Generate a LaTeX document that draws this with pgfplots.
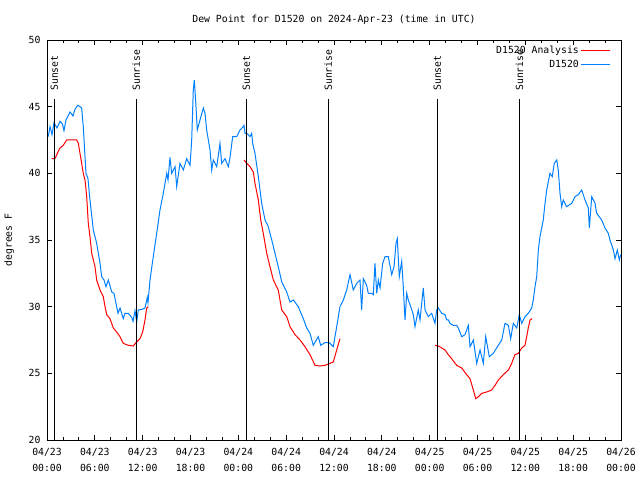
\documentclass[border=0pt]{standalone}
\usepackage{pgfplots}
\pgfplotsset{compat=1.18}
\usepackage{fontspec}
\setmainfont{DejaVu Sans Mono}
\setmonofont{DejaVu Sans Mono}
\definecolor{gpred}{RGB}{255,0,0}
\definecolor{gpblue}{RGB}{0,128,255}
\begin{document}
\begin{tikzpicture}
\path[use as bounding box] (0,0) rectangle (640bp,480bp);
\begin{axis}[
  at={(47bp,40bp)}, anchor=south west,
  scale only axis, width=574bp, height=400bp,
  xmin=0, xmax=72, ymin=20, ymax=50,
  font=\fontsize{9.8bp}{16bp}\selectfont,
  /pgf/number format/assume math mode=true,
  xtick={0,6,...,72},
  xticklabels={{04/23\\00:00},{04/23\\06:00},{04/23\\12:00},{04/23\\18:00},{04/24\\00:00},{04/24\\06:00},{04/24\\12:00},{04/24\\18:00},{04/25\\00:00},{04/25\\06:00},{04/25\\12:00},{04/25\\18:00},{04/26\\00:00}},
  xticklabel style={align=center, yshift=-5bp},
  minor x tick num=2,
  ytick={20,25,...,50},
  yticklabel style={xshift=-3bp},
  tick align=inside,
  major tick length=5bp, minor tick length=3bp,
  every tick/.style={black, line width=0.8bp},
  axis line style={line width=0.8bp},
  title={Dew Point for D1520 on 2024-Apr-23 (time in UTC)},
  title style={at={(0.5,1)}, anchor=center, yshift=14bp},
  ylabel={degrees F},
  ylabel style={at={(axis description cs:-0.066,0.5)}, anchor=center},
  legend plot pos=right,
  legend cell align=right,
  legend style={draw=none, fill=none, at={(1,1)}, anchor=north east, xshift=-9bp, yshift=-3bp, row sep=1bp, inner sep=1bp},
]
\addplot[gpred, line width=1bp, legend image code/.code={\draw[gpred, line width=1bp] (10bp,0bp) -- (39bp,0bp);}] coordinates {
(0.59,41.1) (1.00,41.1) (1.38,41.6) (1.63,41.9) (2.04,42.1) (2.47,42.5) (3.73,42.5) (3.93,42.25) (4.14,41.5) (4.35,40.75) (4.55,40.0) (4.77,39.5) (4.98,38.25) (5.18,36.25) (5.39,35.25) (5.61,34.0) (6.02,33.0) (6.23,32.0) (6.65,31.25) (7.06,30.75) (7.28,30.0) (7.49,29.4) (7.90,29.1) (8.32,28.4) (8.74,28.1) (9.16,27.75) (9.57,27.25) (10.20,27.1) (10.83,27.05) (11.16,27.3) (11.67,27.6) (12.00,28.1) (12.29,29.0) (12.51,29.9) (12.71,30.0)
};
\addlegendentry{D1520 Analysis}
\addplot[gpblue, line width=1bp, legend image code/.code={\draw[gpblue, line width=1bp] (10bp,0bp) -- (39bp,0bp);}] coordinates {
(0.16,42.75) (0.38,43.5) (0.63,42.9) (0.88,43.8) (1.25,43.4) (1.63,43.9) (1.94,43.7) (2.13,43.2) (2.38,44.0) (2.89,44.6) (3.26,44.3) (3.51,44.8) (3.85,45.1) (4.14,45.0) (4.35,44.9) (4.55,43.5) (4.89,40.0) (5.14,39.6) (5.39,38.0) (5.81,35.75) (6.23,34.75) (6.65,33.25) (6.86,32.25) (7.15,32.0) (7.40,31.5) (7.69,32.0) (8.12,31.1) (8.40,31.0) (8.74,30.0) (8.91,29.5) (9.16,29.9) (9.57,29.1) (9.78,29.5) (10.20,29.5) (10.62,29.2) (10.79,28.9) (11.04,29.7) (11.25,28.85) (11.45,29.75) (11.92,29.8) (12.29,29.9) (12.58,30.7) (12.67,30.3) (12.92,32.0) (13.33,33.75) (13.76,35.5) (14.17,37.25) (14.59,38.5) (15.02,40.0) (15.18,39.5) (15.43,41.2) (15.64,40.0) (16.06,40.5) (16.27,39.0) (16.68,40.75) (17.10,40.25) (17.52,41.1) (17.94,40.6) (18.15,42.5) (18.35,46.25) (18.48,47.0) (18.69,45.0) (18.85,43.25) (19.19,44.0) (19.61,44.9) (19.82,44.5) (20.03,43.25) (20.45,41.75) (20.66,40.25) (20.86,41.0) (21.29,40.5) (21.70,42.25) (21.91,40.75) (22.33,41.1) (22.74,40.5) (22.96,41.2) (23.29,42.75) (23.80,42.75) (24.21,43.25) (24.62,43.5) (24.71,43.6) (24.84,43.0) (25.05,43.0) (25.25,42.9) (25.46,42.75) (25.68,43.0) (25.80,42.25) (26.09,41.5) (26.51,39.75) (26.93,37.75) (27.35,36.5) (27.76,36.0) (28.19,35.0) (28.60,34.0) (29.01,33.0) (29.44,31.85) (30.07,31.1) (30.48,30.35) (30.90,30.5) (31.52,30.0) (32.15,29.1) (32.58,28.4) (32.99,28.0) (33.40,27.1) (34.03,27.75) (34.33,27.1) (34.87,27.3) (35.41,27.3) (35.91,27.0) (36.34,28.5) (36.75,30.0) (37.17,30.5) (37.59,31.25) (38.01,32.4) (38.42,31.25) (38.85,31.75) (39.26,32.0) (39.47,29.75) (39.68,32.1) (40.10,31.6) (40.30,31.0) (40.73,31.0) (40.93,30.9) (41.14,33.25) (41.36,31.0) (41.56,32.0) (41.77,31.4) (42.11,33.25) (42.40,33.75) (42.81,33.75) (43.24,32.4) (43.53,33.0) (43.78,34.75) (43.94,35.1) (44.19,32.25) (44.49,33.4) (44.69,31.5) (44.91,29.0) (45.12,31.0) (45.32,30.5) (45.62,30.0) (45.95,29.4) (46.16,28.5) (46.57,29.75) (46.79,29.0) (47.20,31.4) (47.42,29.75) (47.83,29.25) (48.26,29.5) (48.67,28.75) (48.88,29.75) (49.08,29.9) (49.51,29.5) (49.92,29.4) (50.14,29.0) (50.34,29.0) (50.55,28.75) (50.97,28.6) (51.39,28.6) (51.59,28.4) (52.02,27.75) (52.43,27.9) (52.85,28.6) (53.06,27.0) (53.48,27.5) (53.90,25.75) (54.32,26.75) (54.73,25.75) (55.03,27.75) (55.48,26.25) (55.98,26.5) (56.61,27.1) (57.04,27.5) (57.45,28.75) (57.87,28.6) (58.16,27.6) (58.49,28.75) (58.92,28.4) (59.24,29.4) (59.55,28.75) (59.96,29.25) (60.37,29.5) (60.80,29.9) (61.00,30.5) (61.21,31.5) (61.43,32.25) (61.63,34.25) (61.84,35.25) (62.25,36.5) (62.47,37.75) (62.68,38.75) (63.09,40.0) (63.38,39.75) (63.63,40.75) (63.94,41.0) (64.13,40.25) (64.35,38.5) (64.56,37.5) (64.76,38.0) (65.18,37.5) (65.82,37.75) (66.23,38.25) (66.64,38.4) (67.07,38.75) (67.49,38.0) (67.90,37.4) (68.03,35.9) (68.33,38.25) (68.74,37.75) (68.95,37.0) (69.58,36.5) (69.99,35.9) (70.41,35.5) (70.62,35.0) (71.04,34.25) (71.25,33.6) (71.54,34.25) (71.79,33.5) (71.96,33.9)
};
\addlegendentry{D1520}
\addplot[gpred, line width=1bp, forget plot] coordinates {
(24.71,41.0) (25.05,40.75) (25.46,40.5) (25.88,40.1) (26.09,39.25) (26.51,38.0) (26.81,36.5) (27.13,35.5) (27.56,34.0) (27.97,33.0) (28.39,32.0) (29.01,31.25) (29.44,29.75) (30.07,29.25) (30.48,28.5) (31.11,27.9) (31.74,27.5) (32.36,27.0) (32.99,26.4) (33.62,25.6) (34.24,25.55) (34.87,25.6) (35.50,25.75) (35.91,25.85) (36.34,26.75) (36.75,27.6)
};
\addplot[gpred, line width=1bp, forget plot] coordinates {
(48.67,27.1) (49.08,27.05) (49.51,26.9) (49.92,26.75) (50.34,26.4) (50.76,26.1) (51.39,25.6) (52.02,25.4) (52.64,24.9) (53.06,24.6) (53.48,23.75) (53.78,23.1) (54.11,23.25) (54.53,23.5) (55.15,23.6) (55.78,23.75) (56.20,24.1) (56.61,24.5) (57.24,24.9) (57.87,25.25) (58.29,25.75) (58.70,26.4) (59.12,26.5) (59.55,26.9) (59.96,27.1) (60.17,27.75) (60.37,28.4) (60.59,29.0) (60.86,29.1)
};
\addplot[black, line width=1bp, forget plot] coordinates {(0.92,20) (0.92,45.6)};
\addplot[black, line width=1bp, forget plot] coordinates {(11.2,20) (11.2,45.6)};
\addplot[black, line width=1bp, forget plot] coordinates {(25.0,20) (25.0,45.6)};
\addplot[black, line width=1bp, forget plot] coordinates {(35.29,20) (35.29,45.6)};
\addplot[black, line width=1bp, forget plot] coordinates {(48.97,20) (48.97,45.6)};
\addplot[black, line width=1bp, forget plot] coordinates {(59.25,20) (59.25,45.6)};
\node[rotate=90, anchor=west, xshift=1bp, inner sep=0pt] at (axis cs:0.92,46.1) {Sunset};
\node[rotate=90, anchor=west, xshift=1bp, inner sep=0pt] at (axis cs:11.2,46.1) {Sunrise};
\node[rotate=90, anchor=west, xshift=1bp, inner sep=0pt] at (axis cs:25.0,46.1) {Sunset};
\node[rotate=90, anchor=west, xshift=1bp, inner sep=0pt] at (axis cs:35.29,46.1) {Sunrise};
\node[rotate=90, anchor=west, xshift=1bp, inner sep=0pt] at (axis cs:48.97,46.1) {Sunset};
\node[rotate=90, anchor=west, xshift=1bp, inner sep=0pt] at (axis cs:59.25,46.1) {Sunrise};
\end{axis}
\end{tikzpicture}
\end{document}
